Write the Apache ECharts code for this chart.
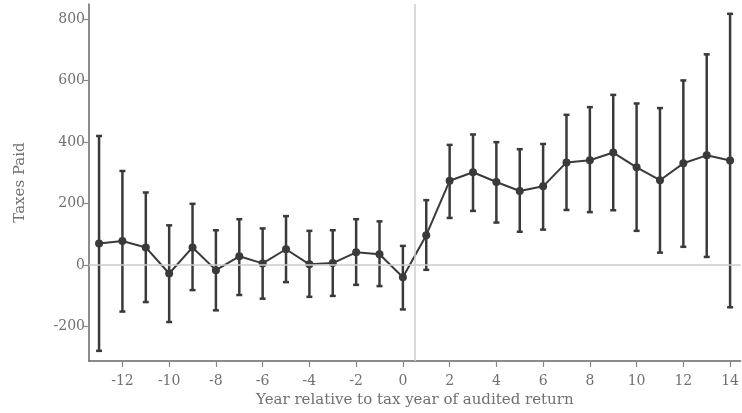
<!DOCTYPE html>
<html>
<head>
<meta charset="utf-8">
<script src="https://cdn.jsdelivr.net/npm/echarts@6/dist/echarts.min.js"></script>
<style>
  html, body { margin: 0; padding: 0; background: #fff; }
  #chart { width: 742px; height: 413px; }
</style>
</head>
<body>
<div id="chart"></div>
<script>
// years relative to audited tax year
var years = [-13, -12, -11, -10, -9, -8, -7, -6, -5, -4, -3, -2, -1, 0, 1, 2, 3, 4, 5, 6, 7, 8, 9, 10, 11, 12, 13, 14];
// point estimates
var estimate = [70, 78, 57, -28, 57, -17, 28, 5, 51, 2, 6, 41, 35, -40, 97, 274, 302, 270, 241, 256, 334, 341, 366, 318, 276, 331, 357, 340];
// confidence interval bounds
var ciLow = [-280, -152, -121, -186, -82, -148, -98, -110, -56, -104, -101, -65, -69, -145, -16, 153, 176, 138, 108, 115, 179, 172, 178, 111, 40, 59, 26, -138];
var ciHigh = [420, 306, 236, 129, 199, 113, 149, 119, 159, 111, 113, 149, 142, 62, 211, 391, 425, 400, 377, 394, 489, 514, 554, 526, 511, 601, 686, 818];
// tick labels
var xTicks = [-12, -10, -8, -6, -4, -2, 0, 2, 4, 6, 8, 10, 12, 14];
var yTicks = [-200, 0, 200, 400, 600, 800];

var myChart = echarts.init(document.getElementById('chart'));

var pointData = years.map(function (y, i) { return [y, estimate[i]]; });
var barData = years.map(function (y, i) { return [y, ciLow[i], ciHigh[i]]; });

var font = 'DejaVu Serif';
var ink = '#3a3a3a';
var textGray = '#707070';

var option = {
    animation: false,
    grid: { left: 89, right: 0, top: 4, bottom: 52, containLabel: false },
    xAxis: {
        type: 'value',
        min: -13.43,
        max: 14.45,
        name: 'Year relative to tax year of audited return',
        nameLocation: 'middle',
        nameGap: 32,
        nameTextStyle: { fontFamily: font, fontSize: 15, color: textGray },
        axisLine: { show: true, onZero: false, lineStyle: { color: '#666', width: 1.5 } },
        axisTick: { show: true, length: 6, customValues: xTicks, lineStyle: { color: '#888', width: 1.2 } },
        axisLabel: { customValues: xTicks, fontFamily: font, fontSize: 14, color: textGray, margin: 13 },
        splitLine: { show: false }
    },
    yAxis: {
        type: 'value',
        min: -313,
        max: 850,
        name: 'Taxes Paid',
        nameLocation: 'middle',
        nameGap: 61,
        nameRotate: 90,
        nameTextStyle: { fontFamily: font, fontSize: 15, color: textGray },
        axisLine: { show: true, onZero: false, lineStyle: { color: '#666', width: 1.5 } },
        axisTick: { show: true, length: 5, customValues: yTicks, lineStyle: { color: '#888', width: 1.2 } },
        axisLabel: { customValues: yTicks, fontFamily: font, fontSize: 14, color: textGray, margin: 4 },
        splitLine: { show: false }
    },
    series: [
        {
            type: 'line',
            data: [],
            silent: true,
            z: 1,
            markLine: {
                symbol: 'none',
                silent: true,
                label: { show: false },
                lineStyle: { color: '#cccccc', width: 1.5, type: 'solid' },
                data: [{ yAxis: 0 }, { xAxis: 0.5 }]
            }
        },
        {
            type: 'custom',
            z: 2,
            data: barData,
            renderItem: function (params, api) {
                var x = api.value(0);
                var lo = api.coord([x, api.value(1)]);
                var hi = api.coord([x, api.value(2)]);
                var cap = 3;
                var style = { stroke: ink, lineWidth: 2.5 };
                return {
                    type: 'group',
                    children: [
                        { type: 'line', shape: { x1: lo[0], y1: lo[1], x2: hi[0], y2: hi[1] }, style: style },
                        { type: 'line', shape: { x1: lo[0] - cap, y1: lo[1], x2: lo[0] + cap, y2: lo[1] }, style: style },
                        { type: 'line', shape: { x1: hi[0] - cap, y1: hi[1], x2: hi[0] + cap, y2: hi[1] }, style: style }
                    ]
                };
            }
        },
        {
            type: 'line',
            z: 3,
            data: pointData,
            symbol: 'circle',
            symbolSize: 8,
            lineStyle: { color: ink, width: 2 },
            itemStyle: { color: ink }
        }
    ]
};

myChart.setOption(option);
</script>
</body>
</html>
